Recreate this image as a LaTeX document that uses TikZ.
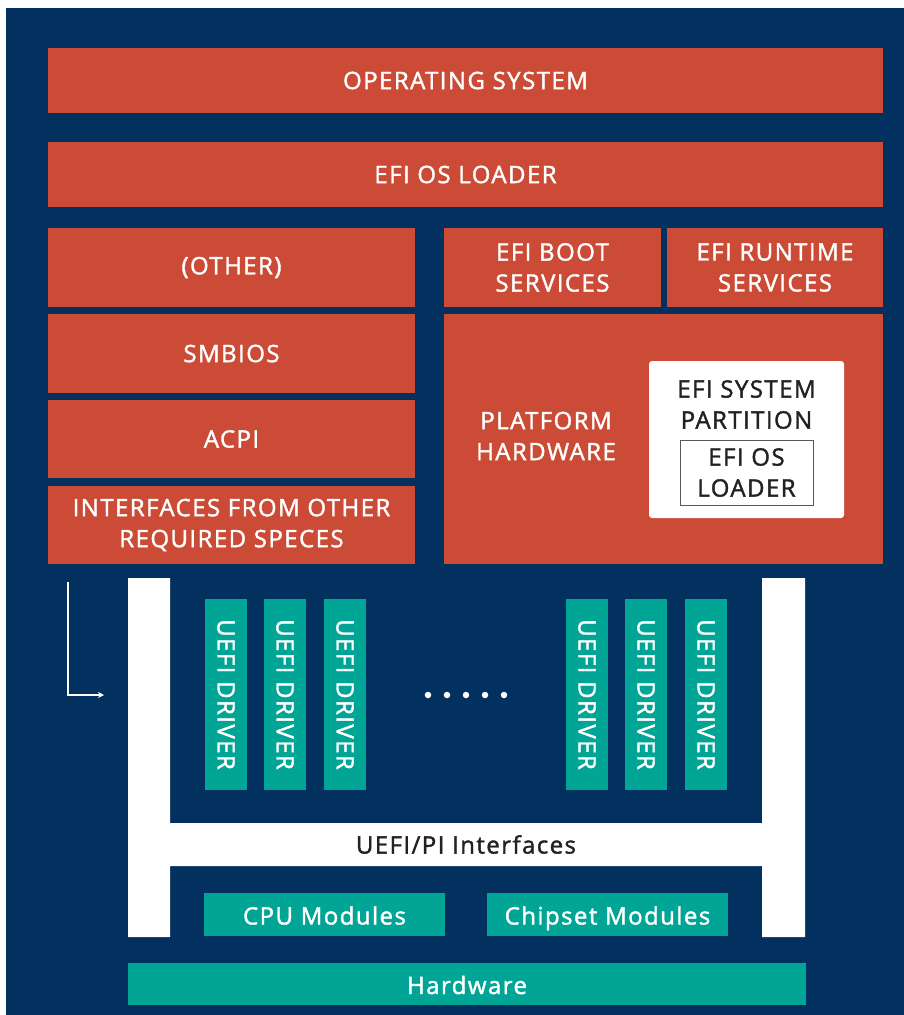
\documentclass[tikz,border=0pt]{standalone}
\usepackage{fontspec}
\setmainfont{Open Sans}[LetterSpace=6, FakeBold=1.6]
\usetikzlibrary{arrows.meta}
\definecolor{navy}{HTML}{02305F}
\definecolor{eforange}{HTML}{CB4B37}
\definecolor{efteal}{HTML}{00A595}
\definecolor{dtext}{HTML}{222222}
\begin{document}
\begin{tikzpicture}[x=1pt,y=-1pt,
  txtfont/.style={font=\fontsize{24}{31}\selectfont},
  obox/.style={fill=eforange, draw=none, text=white, inner sep=0pt, align=center, txtfont},
  tbox/.style={fill=efteal, draw=none, text=white, inner sep=0pt, align=center, txtfont,
     text height=21pt, text depth=1pt},
  drv/.style={fill=efteal, draw=none, inner sep=0pt, minimum width=42pt, minimum height=191pt},
  drvtxt/.style={text=white, rotate=-90, inner sep=0pt, txtfont},
  dtxt/.style={text=dtext, inner sep=0pt, align=center, txtfont},
  dot/.style={circle, fill=white, minimum size=6.5pt, inner sep=0pt}
]
\useasboundingbox (0,0) rectangle (904,1015);
\fill[white] (0,0) rectangle (904,1015);
\fill[navy] (6,8) rectangle (904,1015);

% top rows
\node[obox, minimum width=835pt, minimum height=65pt] (os) at (465.5,80.5) {OPERATING SYSTEM};
\node[obox, minimum width=835pt, minimum height=65pt] (loader) at (465.5,174.5) {EFI OS LOADER};

% left column
\node[obox, minimum width=367pt, minimum height=79pt] (other) at (231.5,267.5) {(OTHER)};
\node[obox, minimum width=367pt, minimum height=79pt] (smbios) at (231.5,353.5) {SMBIOS};
\node[obox, minimum width=367pt, minimum height=78pt] (acpi) at (231.5,439) {ACPI};
\node[obox, minimum width=367pt, minimum height=78pt] (ifaces) at (231.5,525) {INTERFACES FROM OTHER\\REQUIRED SPECES};

% right column
\node[obox, minimum width=217pt, minimum height=79pt] (boot) at (552.5,267.5) {EFI BOOT\\SERVICES};
\node[obox, minimum width=216pt, minimum height=79pt] (runtime) at (775,267.5) {EFI RUNTIME\\SERVICES};
\node[obox, minimum width=439pt, minimum height=250pt] (platform) at (663.5,439) {};
\node[text=white, align=center, inner sep=0pt, txtfont] (plattxt) at (546,436) {PLATFORM\\HARDWARE};
\node[fill=white, rounded corners=3pt, minimum width=195pt, minimum height=157pt, inner sep=0pt] (esp) at (746.5,439.5) {};
\node[dtxt] (esptxt) at (746.5,404.5) {EFI SYSTEM\\PARTITION};
\node[draw=gray!70!black, line width=1pt, fill=white, minimum width=133pt, minimum height=65pt, inner sep=0pt, dtxt] (osl) at (746.5,472.5) {EFI OS\\LOADER};

% H-shaped interfaces
\fill[white] (128,578) -- (170,578) -- (170,823) -- (762,823) -- (762,578) -- (805,578)
  -- (805,937) -- (762,937) -- (762,866) -- (170,866) -- (170,937) -- (128,937) -- cycle;
\node[dtxt] (uefipi) at (466,844.5) {UEFI/PI Interfaces};

% arrow
\coordinate (a1) at (68,582);
\coordinate (a2) at (68,695);
\coordinate (a3) at (104,695);
\draw[white, line width=1.1pt, -{Stealth[length=6pt,width=6pt]}] (a1) -- (a2) -- (a3);

% drivers
\foreach \x/\n in {226/d1, 285/d2, 345/d3, 587/d4, 646/d5, 706/d6} {
  \node[drv] (\n) at (\x,694.5) {};
  \node[drvtxt] at (\n.center) {UEFI DRIVER};
}
% dots
\foreach \x/\n in {428/p1, 447/p2, 466/p3, 485/p4, 504/p5} {
  \node[dot] (\n) at (\x,695) {};
}

% modules
\node[tbox, minimum width=241pt, minimum height=43pt] (cpu) at (324.5,914.5) {CPU Modules};
\node[tbox, minimum width=241pt, minimum height=43pt] (chip) at (607.5,914.5) {Chipset Modules};
\node[tbox, minimum width=678pt, minimum height=42pt] (hw) at (467,984) {Hardware};
\end{tikzpicture}
\end{document}
